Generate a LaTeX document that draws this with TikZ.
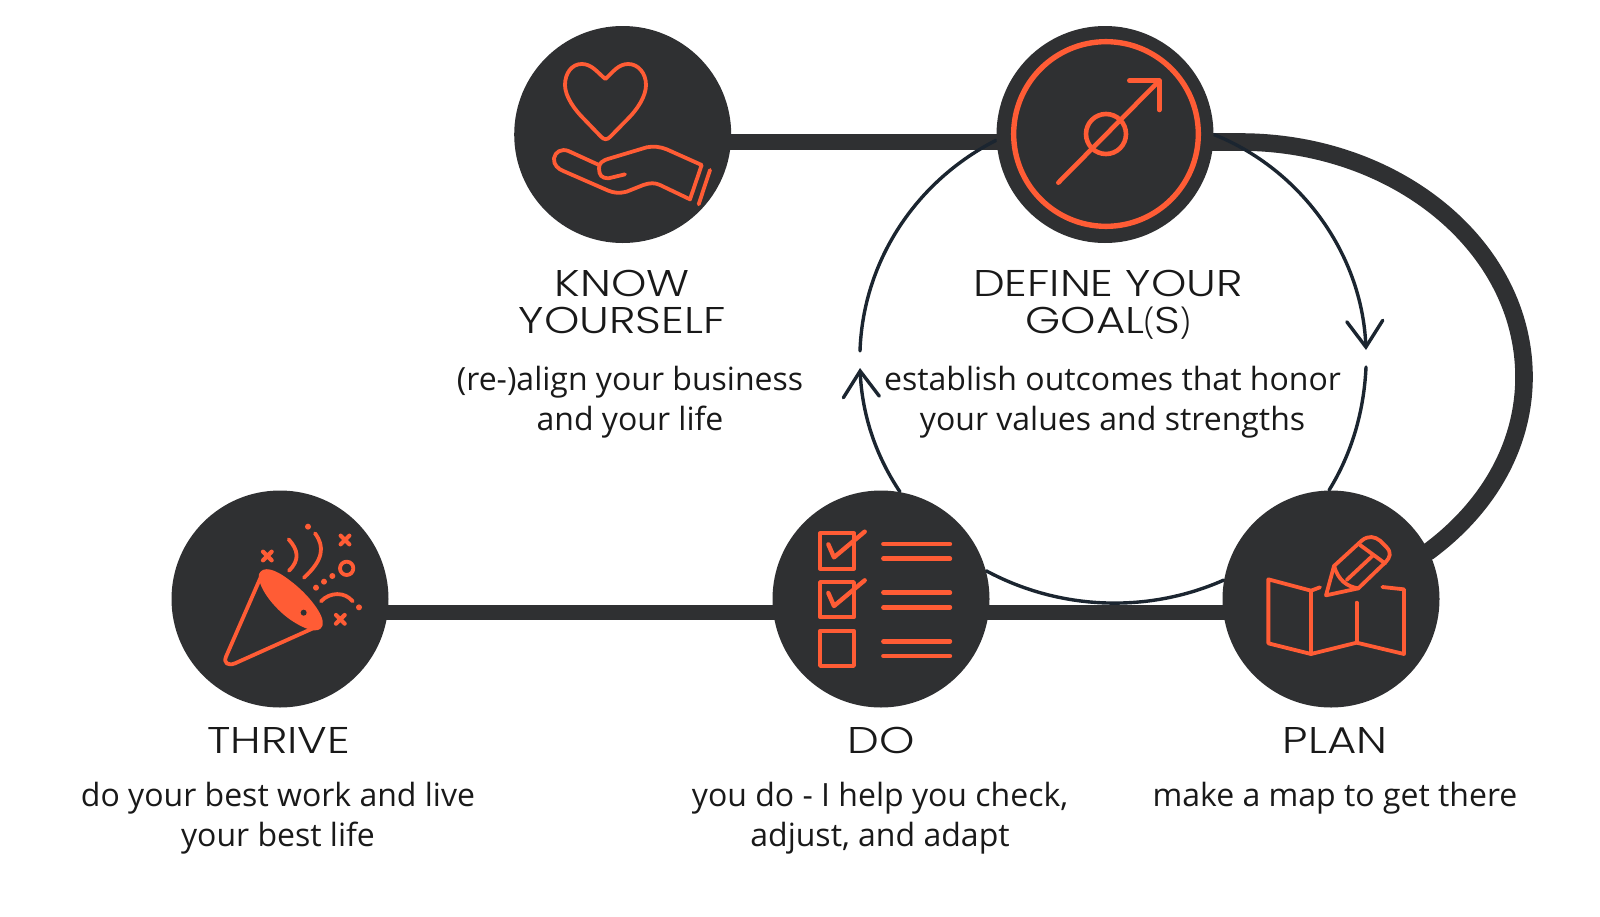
\documentclass[tikz,border=0pt]{standalone}
\usepackage{fontspec}
\usetikzlibrary{arrows.meta,backgrounds}
\setmainfont{Open Sans}
\newfontfamily\headfont{Poppins}[UprightFont=* Light,FakeStretch=1.21]
\newfontfamily\parenfont{Open Sans}[UprightFont=* Light]
\definecolor{coal}{HTML}{2F3032}
\definecolor{ember}{HTML}{FF5C35}
\definecolor{ink}{HTML}{1B2530}
\tikzset{
    stage/.style={circle,fill=coal,minimum size=108.5pt,inner sep=0pt},
    bar/.style={draw=coal,line width=7.6pt,shorten <=-2pt,shorten >=-2pt},
    loopline/.style={draw=ink,line width=1.7pt,line cap=round},
    barbed/.style={-{Straight Barb[length=13pt,width=18pt,line cap=round]}},
    icon/.style={draw=ember,line width=1.9pt,line cap=round,line join=round},
    headtext/.style={align=center,inner sep=0pt,text=black!90,font=\headfont\fontsize{18.6}{19}\selectfont},
    bodytext/.style={align=center,inner sep=0pt,text=black!90,font=\fontsize{16}{20.2}\selectfont},
}
\begin{document}
\begin{tikzpicture}[x=0.5pt,y=-0.5pt]
    \useasboundingbox (0,0) rectangle (1600,916);
    \foreach \name/\cx/\cy in {know/622.7/134.5,goal/1105/134.5,thrive/280/599,do/881/599,plan/1331/599}
        \node[stage] (\name) at (\cx,\cy) {};

    \coordinate (bigtop) at (1240,142);
    \coordinate (bigright) at (1524,377);
    \coordinate (gapright) at (1366,350);
    \coordinate (startright) at (1366,367);
    \coordinate (gapleft) at (860,351);
    \coordinate (tipleft) at (860,368);

    \begin{scope}[on background layer]
        \draw[bar] (know.-4.2) -- (goal.184.2);
        \draw[bar] (thrive.-7) -- (do.187);
        \draw[bar] (do.-7) -- (plan.187);
        % big return curve
        \draw[coal,line width=8.8pt] (goal.center |- bigtop) -- (bigtop)
            .. controls (1397,142) and (1524,247) .. (bigright)
            .. controls (1524,443) and (1490.5,505.5) .. (plan.26) -- (plan.center);
        % thin loop
        \draw[loopline,barbed] (goal.0) .. controls (1302,170) and (1362,255) .. (gapright);
        \draw[loopline] (startright) .. controls (1364,411) and (1352,453) .. (plan.91);
        \draw[loopline] (plan.170) .. controls (1147,614) and (1059,610) .. (do.15);
        \draw[loopline,barbed] (do.80) .. controls (874,453) and (862,412) .. (tipleft);
        \draw[loopline] (gapleft) .. controls (863,261) and (916,181) .. (goal.183);
    \end{scope}

    % know: heart and hand
    \begin{scope}[shift={(500,10)},scale=1/3]
        \draw[icon] (316,207) .. controls (290,185) and (275,162) .. (245,162)
            .. controls (215,162) and (195,190) .. (195,225)
            .. controls (195,260) and (225,300) .. (250,325) -- (303,380)
            .. controls (312,390) and (322,390) .. (331,380) -- (385,325)
            .. controls (410,300) and (438,260) .. (438,225)
            .. controls (438,190) and (415,162) .. (385,162)
            .. controls (355,162) and (340,185) .. (316,207) -- cycle;
        \draw[icon] (297,465) -- (205,423) .. controls (185,415) and (165,425) .. (162,445)
            .. controls (160,465) and (175,477) .. (190,483) -- (325,542)
            .. controls (345,550) and (360,550) .. (380,545) -- (430,525)
            .. controls (450,518) and (465,518) .. (480,525) -- (570,568) -- (605,465) -- (500,418)
            .. controls (480,410) and (460,408) .. (440,412) -- (330,445)
            .. controls (305,452) and (297,460) .. (297,475)
            .. controls (297,495) and (305,505) .. (325,505) -- (375,493);
        \draw[icon] (630,480) -- (596,583);
    \end{scope}

    % goal: target and arrow
    \begin{scope}[shift={(980,10)},scale=1/3]
        \draw[icon,line width=2.7pt] (378,372) circle[radius=277];
        \draw[icon,line width=2.3pt] (378,372) circle[radius=60];
        \draw[icon,line width=2.3pt] (235,518) -- (538,212);
        \draw[icon,line width=2.3pt] (448,212) -- (538,212) -- (538,300);
    \end{scope}

    % thrive: party popper
    \begin{scope}[shift={(160,480)},scale=1/3]
        \draw[icon] (305,285) -- (198,530) .. controls (190,550) and (205,558) .. (225,550) -- (470,440);
        \draw[icon,fill=ember] (302,285) .. controls (310,265) and (340,270) .. (385,305)
            .. controls (440,345) and (490,410) .. (482,435)
            .. controls (475,455) and (440,445) .. (395,415)
            .. controls (345,380) and (300,320) .. (302,285) -- cycle;
        \fill[coal] (431,398) circle[radius=9];
        \foreach \px/\py in {322/228,555/180,541/418}
            \draw[icon,line width=2.1pt] (\px-13,\py-13) -- (\px+13,\py+13) (\px-13,\py+13) -- (\px+13,\py-13);
        \draw[icon] (560,265) circle[radius=20];
        \foreach \px/\py in {444/140,468/323,492/305,517/288,597/382}
            \fill[ember] (\px,\py) circle[radius=9];
        \draw[icon] (386,178) .. controls (415,210) and (420,240) .. (387,272);
        \draw[icon] (465,160) .. controls (495,200) and (490,240) .. (432,293);
        \draw[icon] (483,364) .. controls (510,335) and (555,335) .. (578,364);
    \end{scope}

    % do: checklist
    \begin{scope}[shift={(760,480)},scale=1/3]
        \foreach \dy in {0,146,292} {
            \draw[icon] (180,160+\dy) rectangle (282,266+\dy);
            \draw[icon,line width=2.2pt] (370,192+\dy) -- (570,192+\dy) (370,236+\dy) -- (570,236+\dy);
        }
        \foreach \dy in {0,146}
            \draw[icon,line width=2.2pt] (205,193+\dy) -- (222,232+\dy) -- (314,155+\dy);
    \end{scope}

    % plan: map and pencil
    \begin{scope}[shift={(1210,480)},scale=1/3]
        \draw[icon] (330,322) -- (303,332) -- (175,298) -- (175,490) -- (303,522) -- (440,488)
            -- (582,522) -- (582,328) -- (517,321);
        \draw[icon] (303,332) -- (303,522) (440,368) -- (440,488);
        \draw[icon] (348,346) -- (372,258) -- (455,182) .. controls (475,165) and (495,170) .. (510,182)
            -- (530,202) .. controls (545,218) and (540,232) .. (528,245) -- (445,325) -- cycle;
        \draw[icon] (450,195) -- (525,250) (410,300) -- (488,227);
        \draw[icon] (372,258) .. controls (385,300) and (410,320) .. (445,325);
    \end{scope}

    \node[headtext] (knowhead) at (622,302) {KNOW\\[-0.5pt]YOURSELF};
    \node[headtext] (goalhead) at (1108,305) {DEFINE YOUR\\[-0.5pt]GOAL{\parenfont(}S{\parenfont)}};
    \node[headtext] (thrivehead) at (278.6,740) {THRIVE};
    \node[headtext] (dohead) at (881,740) {DO};
    \node[headtext] (planhead) at (1335,740) {PLAN};

    \node[bodytext] (knowbody) at (630,402) {(re-)align your business\\and your life};
    \node[bodytext] (goalbody) at (1112.5,402) {establish outcomes that honor\\your values and strengths};
    \node[bodytext] (thrivebody) at (278,818) {do your best work and live\\your best life};
    \node[bodytext] (dobody) at (880,818) {you do - I help you check,\\adjust, and adapt};
    \node[bodytext] (planbody) at (1335,798) {make a map to get there};
\end{tikzpicture}
\end{document}
